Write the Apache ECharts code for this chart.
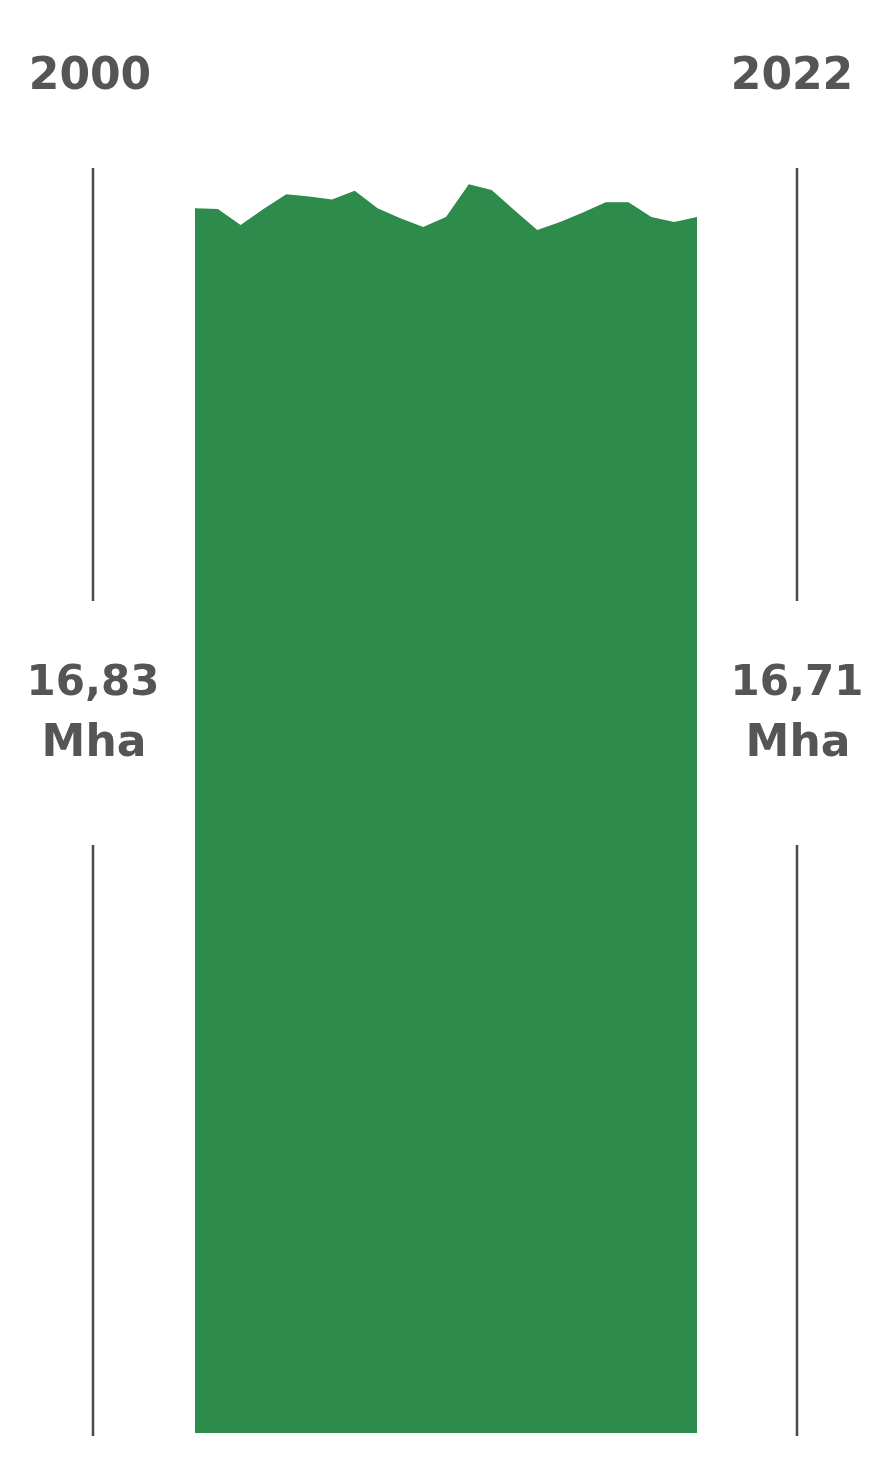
<!DOCTYPE html>
<html>
<head>
<meta charset="utf-8">
<script src="https://cdn.jsdelivr.net/npm/echarts@6/dist/echarts.min.js"></script>
<style>
  html, body { margin: 0; padding: 0; background: #fff; }
  #chart { width: 879px; height: 1459px; }
</style>
</head>
<body>
<div id="chart"></div>
<script>
  // superficie, millions d'hectares
  const years = ['2000', '2001', '2002', '2003', '2004', '2005', '2006', '2007', '2008', '2009', '2010', '2011',
                 '2012', '2013', '2014', '2015', '2016', '2017', '2018', '2019', '2020', '2021', '2022']
  const surface = [16.83, 16.82, 16.60, 16.82, 17.02, 16.99, 16.95, 17.07, 16.83, 16.69, 16.57, 16.71,
                   17.16, 17.08, 16.80, 16.53, 16.64, 16.77, 16.91, 16.91, 16.71, 16.64, 16.71]
  const unit = 'Mha'

  const fmt = v => v.toFixed(2).replace('.', ',')
  const textColor = '#555555'
  const lineColor = '#4a4a4a'
  const font = 'bold 44px "DejaVu Sans", sans-serif'
  const valueFont = 'bold 42px "DejaVu Sans", sans-serif'

  // colonne de repère (ligne coupée + libellés)
  let marker = (x, year, value, dx) => [
    { type: 'line', shape: { x1: x, y1: 168, x2: x, y2: 601 }, style: { stroke: lineColor, lineWidth: 2.5 } },
    { type: 'line', shape: { x1: x, y1: 845, x2: x, y2: 1436 }, style: { stroke: lineColor, lineWidth: 2.5 } },
    { type: 'text', x: x + dx, y: 78, style: { text: year, font: font, fill: textColor, textAlign: 'center', textVerticalAlign: 'middle' } },
    { type: 'text', x: x, y: 684, style: { text: fmt(value), font: valueFont, fill: textColor, textAlign: 'center', textVerticalAlign: 'middle' } },
    { type: 'text', x: x + 1, y: 745, style: { text: unit, font: font, fill: textColor, textAlign: 'center', textVerticalAlign: 'middle' } }
  ]

  const option = {
    backgroundColor: '#ffffff',
    animation: false,
    grid: { left: 195, right: 182, top: 123, bottom: 26 },
    xAxis: {
      type: 'category',
      data: years,
      boundaryGap: false,
      show: false
    },
    yAxis: {
      type: 'value',
      min: 0,
      max: 18,
      show: false
    },
    series: [
      {
        type: 'line',
        data: surface,
        showSymbol: false,
        lineStyle: { width: 0 },
        areaStyle: { color: '#2d8b4b', opacity: 1 }
      }
    ],
    graphic: [
      ...marker(93, years[0], surface[0], -3),
      ...marker(797, years[years.length - 1], surface[surface.length - 1], -5)
    ]
  }

  let chart = echarts.init(document.getElementById('chart'))
  chart.setOption(option)
  window.onresize = () => {
    chart.resize()
  }
</script>
</body>
</html>
